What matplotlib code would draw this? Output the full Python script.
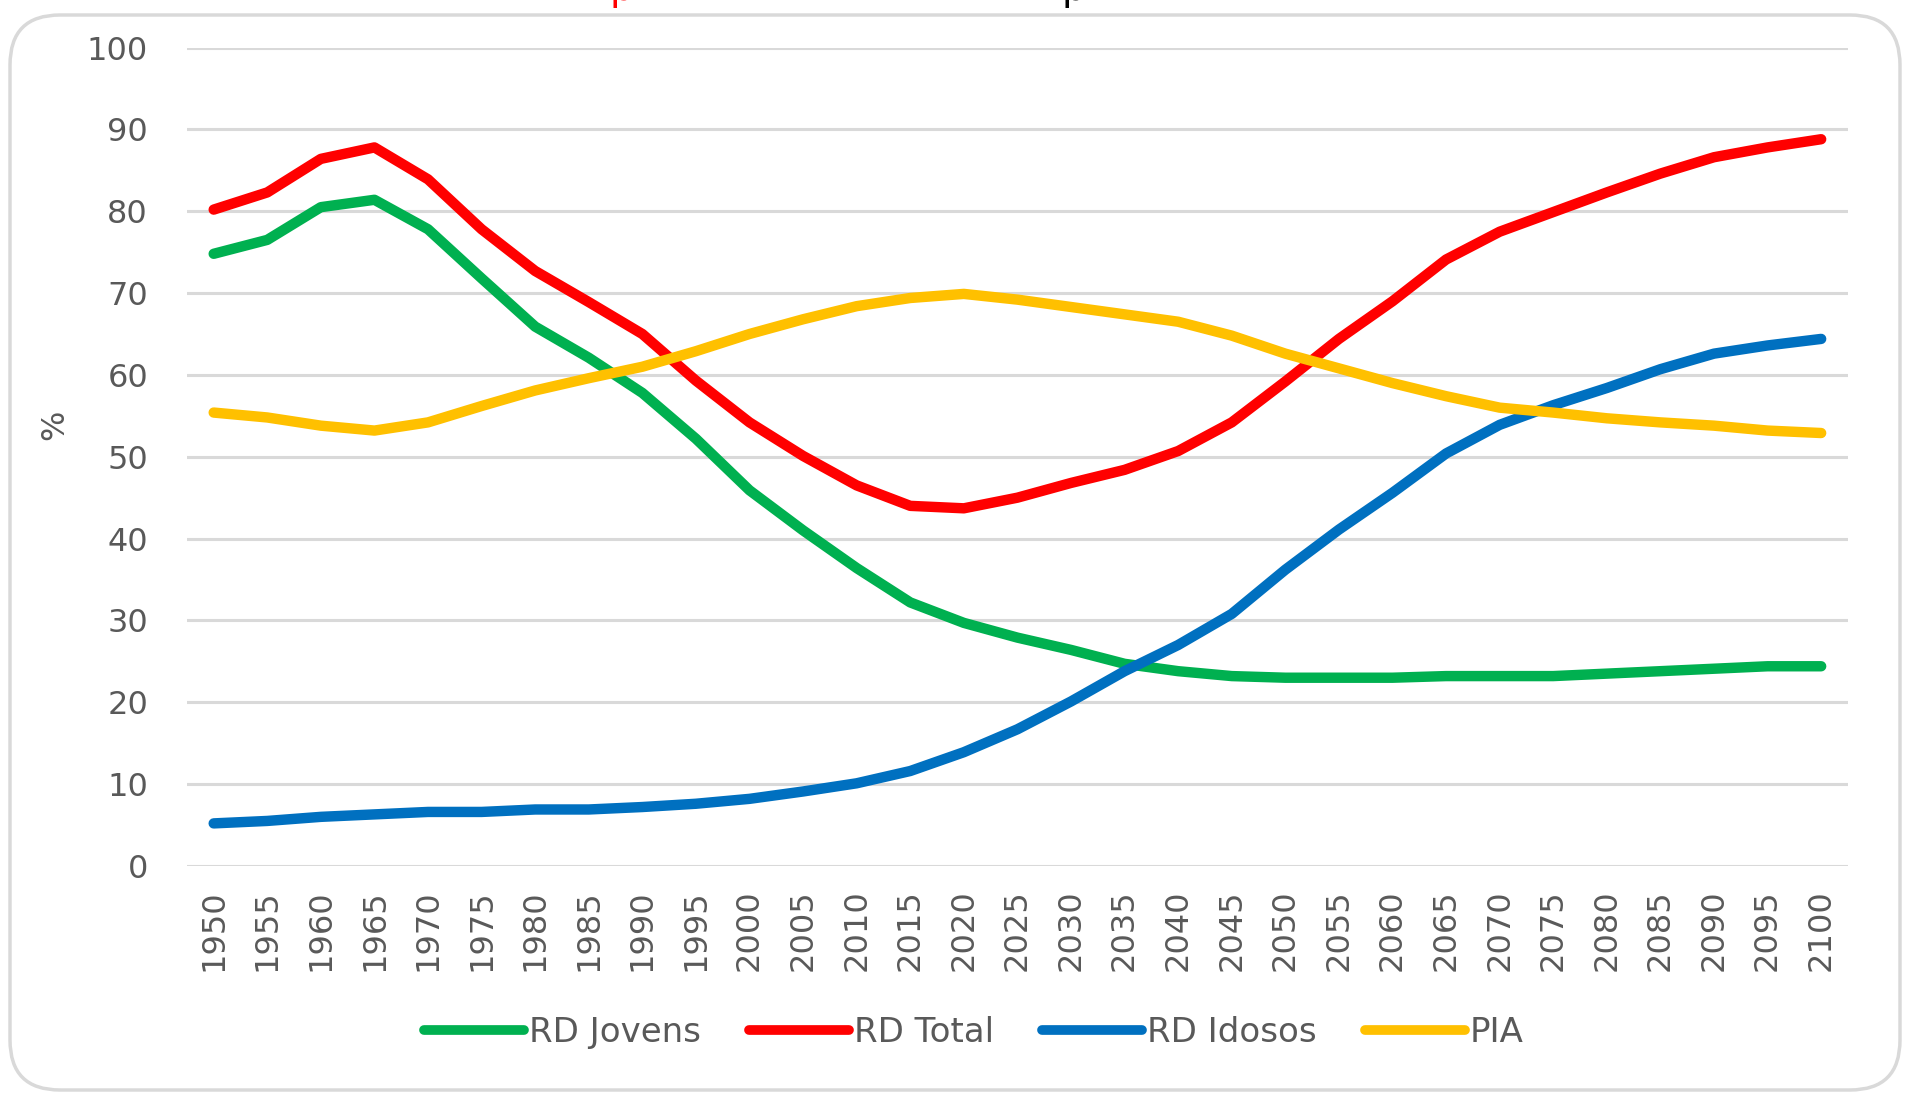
import matplotlib.pyplot as plt
from matplotlib.patches import FancyBboxPatch

# years (category axis) and series
years = list(range(1950, 2101, 5))

rd_jovens = [74.8, 76.5, 80.5, 81.4, 77.8, 71.8, 65.9, 62.1, 57.8, 52.2, 45.9,
             41.0, 36.4, 32.2, 29.7, 27.9, 26.4, 24.7, 23.8, 23.2, 23.0, 23.0,
             23.0, 23.2, 23.2, 23.2, 23.5, 23.8, 24.1, 24.4, 24.4]
rd_total = [80.2, 82.3, 86.4, 87.8, 83.9, 77.8, 72.7, 68.9, 65.0, 59.3, 54.2,
            50.1, 46.5, 44.0, 43.7, 45.0, 46.8, 48.4, 50.7, 54.2, 59.2, 64.4,
            69.0, 74.1, 77.5, 79.9, 82.3, 84.6, 86.6, 87.8, 88.8]
rd_idosos = [5.2, 5.5, 6.0, 6.3, 6.6, 6.6, 6.9, 6.9, 7.2, 7.6, 8.2,
             9.1, 10.1, 11.6, 13.9, 16.7, 20.1, 23.8, 27.0, 30.8, 36.2, 41.1,
             45.6, 50.4, 53.9, 56.3, 58.4, 60.7, 62.6, 63.6, 64.4]
pia = [55.4, 54.8, 53.8, 53.2, 54.2, 56.2, 58.1, 59.6, 61.0, 62.9, 65.0,
       66.8, 68.4, 69.4, 69.9, 69.2, 68.3, 67.4, 66.5, 64.8, 62.6, 60.8,
       59.0, 57.4, 56.0, 55.4, 54.7, 54.2, 53.8, 53.2, 52.9]

series = [
    ("RD Jovens", rd_jovens, "#00B050"),
    ("RD Total", rd_total, "#FF0000"),
    ("RD Idosos", rd_idosos, "#0070C0"),
    ("PIA", pia, "#FFC000"),
]

grey = "#595959"

fig = plt.figure(figsize=(19.13, 10.96), dpi=100)
ax = fig.add_axes([0.0977, 0.2099, 0.966 - 0.0977, 0.9566 - 0.2099])

# rounded chart border (pixel coords)
border = FancyBboxPatch((10, 6), 1890, 1075, boxstyle="round,pad=0,rounding_size=50",
                        transform=None, fill=False, edgecolor="#D9D9D9", linewidth=2.5)
fig.patches.append(border)

# bits of the cut-off title at the very top (only descenders remain visible)
fig.text(622 / 1913, 1.0, "p", color="#FF0000", fontsize=28,
         ha="center", va="baseline")
fig.text(1074 / 1913, 1.0, "p", color="black", fontsize=28,
         ha="center", va="baseline")

x = list(range(len(years)))
for name, vals, color in series:
    ax.plot(x, vals, color=color, linewidth=7.5, label=name,
            solid_capstyle="round", solid_joinstyle="round", zorder=3)

ax.set_xlim(-0.5, len(years) - 0.5)
ax.set_ylim(0, 100)
ax.set_yticks(range(0, 101, 10))
ax.set_xticks(x)
ax.set_xticklabels([str(y) for y in years], rotation=90)
ax.tick_params(axis="x", length=0, pad=17, labelsize=23, labelcolor=grey)
ax.tick_params(axis="y", length=0, pad=28, labelsize=23, labelcolor=grey)
ax.grid(axis="y", color="#D9D9D9", linewidth=2.2, zorder=0)
for s in ax.spines.values():
    s.set_visible(False)
ax.set_axisbelow(True)

fig.text(55 / 1913, 1 - 425 / 1096, "%", rotation=90, fontsize=23, color=grey,
         ha="center", va="center")

leg = fig.legend(loc="center", bbox_to_anchor=(0.509, 0.058), ncol=4, frameon=False,
                 fontsize=24.5, handlelength=2.95, handletextpad=0.15, columnspacing=1.4)
for t in leg.get_texts():
    t.set_color(grey)
for h in leg.get_lines():
    h.set_linewidth(7)

fig.savefig("out.png", dpi=100)
